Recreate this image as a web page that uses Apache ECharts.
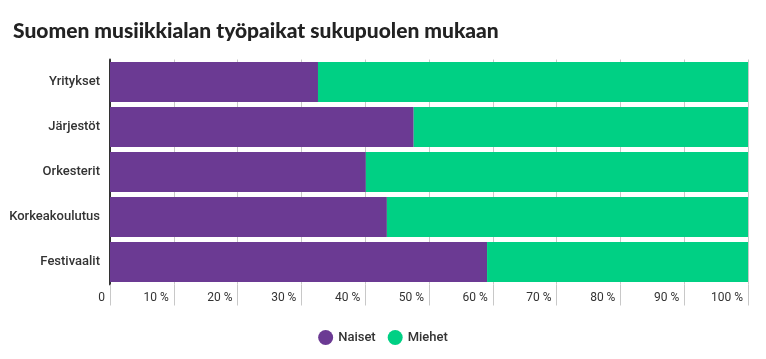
<!DOCTYPE html>
<html><head><meta charset="utf-8">
<script src="https://cdn.jsdelivr.net/npm/echarts@6/dist/echarts.min.js"></script>
<style>html,body{margin:0;padding:0;background:#fff}#c{width:766px;height:359px}</style>
</head><body><div id="c"></div>
<script>
const categories = ['Yritykset', 'Järjestöt', 'Orkesterit', 'Korkeakoulutus', 'Festivaalit'];
const naiset = [32.6, 47.6, 40.1, 43.4, 59.1];
const miehet = [67.4, 52.4, 59.9, 56.6, 40.9];
const seriesNames = ['Naiset', 'Miehet'];

const chart = echarts.init(document.getElementById('c'), null, {renderer: 'canvas'});
chart.setOption({
  animation: false,
  color: ['#6b3a93', '#00d084'],
  title: {
    text: 'Suomen musiikkialan työpaikat sukupuolen mukaan',
    left: 8, top: 16,
    textStyle: {fontFamily: 'Lato', fontWeight: 900, fontSize: 21, color: '#222'}
  },
  legend: {
    data: seriesNames,
    bottom: 9, left: 'center',
    icon: 'circle', itemWidth: 15, itemHeight: 15, itemGap: 12,
    textStyle: {fontFamily: 'Roboto', fontWeight: 500, fontSize: 13, color: '#333'}
  },
  grid: {left: 110, right: 18, top: 59.5, bottom: 74.5, containLabel: false},
  xAxis: {
    type: 'value', min: 0, max: 100, interval: 10,
    axisLine: {show: false},
    axisTick: {show: true, length: 21, lineStyle: {color: '#c8c8c8'}},
    splitLine: {show: true, lineStyle: {color: '#c8c8c8'}},
    axisLabel: {
      fontFamily: 'Roboto', fontSize: 12, color: '#333',
      align: 'right', margin: 7, padding: [0, 5, 0, 0],
      formatter: v => v === 0 ? '0' : v + ' %'
    }
  },
  yAxis: {
    type: 'category', data: categories, inverse: true,
    axisLine: {show: true, lineStyle: {color: '#333', width: 2}},
    axisTick: {show: false},
    axisLabel: {fontFamily: 'Roboto', fontWeight: 500, fontSize: 13, color: '#333', margin: 10}
  },
  series: [
    {name: seriesNames[0], type: 'bar', stack: 'a', data: naiset, barCategoryGap: '11%'},
    {name: seriesNames[1], type: 'bar', stack: 'a', data: miehet, barCategoryGap: '11%'}
  ]
});
</script></body></html>
